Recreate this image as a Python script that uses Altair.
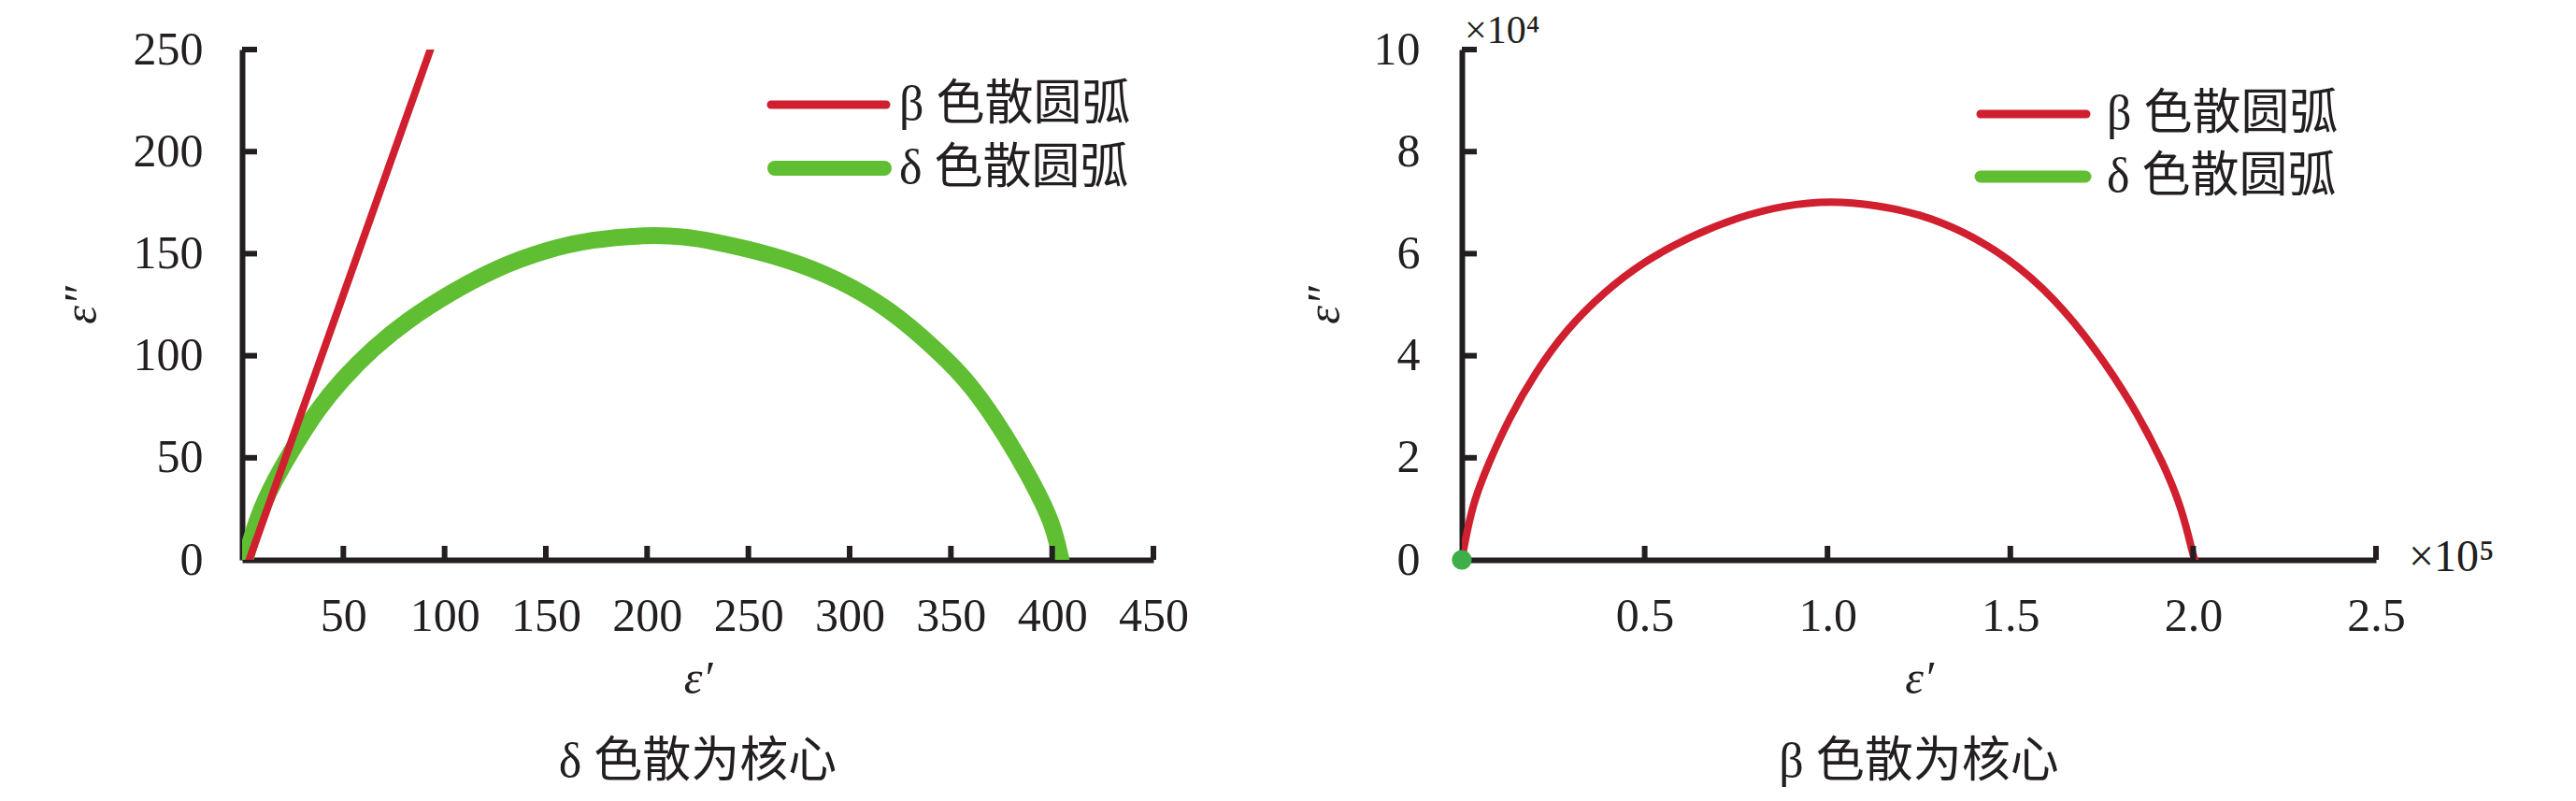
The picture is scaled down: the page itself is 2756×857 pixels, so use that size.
import altair as alt
import pandas as pd

# ---------------- data ----------------
SERIES = ["β 色散圆弧", "δ 色散圆弧"]
RED = "#d01f2e"
GREEN = "#5fbe32"
BLOB_GREEN = "#3dae49"

# Left panel (δ dispersion as core)
BETA_L_X = [3.5, 93]
BETA_L_Y = [0, 250]
DELTA_L_X = [1.5, 7.7, 15.4, 26.2, 36.9, 49.3, 64.6, 81.6, 103.1, 126.2, 149.3, 172.4, 200, 218,
             236.2, 269.4, 294.2, 319.1, 344, 360.5, 377.1, 390.3, 400.3, 404.4]
DELTA_L_Y = [0, 21.4, 38, 56.4, 73.2, 88.4, 103.7, 117.4, 131.1, 143.3, 151.7, 157, 159.3, 158.5,
             155.5, 147.5, 137.6, 123.5, 102.1, 85.4, 61, 38.1, 18.3, 0]

# Right panel (β dispersion as core), x in 1e5, y in 1e4
BETA_R_X = [0, 0.0036, 0.029, 0.072, 0.131, 0.199, 0.285, 0.387, 0.498, 0.625, 0.753, 0.881, 1.009,
            1.136, 1.25, 1.366, 1.494, 1.622, 1.733, 1.835, 1.920, 1.971, 2.001, 2.005]
BETA_R_Y = [0, 0.17, 1.09, 1.88, 2.80, 3.65, 4.51, 5.24, 5.85, 6.34, 6.71, 6.95, 7.04,
            6.95, 6.78, 6.46, 5.93, 5.12, 4.14, 3.04, 1.88, 0.97, 0.05, 0]
DELTA_R_X = [0, 0.002, 0.004]
DELTA_R_Y = [0, 0.016, 0]

LEFT_X_TICKS = [50, 100, 150, 200, 250, 300, 350, 400, 450]
LEFT_Y_TICKS = [50, 100, 150, 200, 250]
LEFT_Y_LABELS = [0, 50, 100, 150, 200, 250]
RIGHT_X_TICKS = [0.5, 1.0, 1.5, 2.0, 2.5]
RIGHT_Y_TICKS = [2, 4, 6, 8, 10]
RIGHT_Y_LABELS = [0, 2, 4, 6, 8, 10]

TITLES = ["δ 色散为核心", "β 色散为核心"]
X_TITLE = "ε′"
Y_TITLE = "ε″"
X_EXP = "×10⁵"
Y_EXP = "×10⁴"

FONT = "Liberation Serif, Noto Sans CJK SC"
INK = "#231f20"


def frame(xs, ys, name):
    return pd.DataFrame({"x": xs, "y": ys, "series": name, "i": list(range(len(xs)))})


def legend_layers(rows):
    """rows: list of (label, colour, stroke width, x0, x1, y, text x) in plot pixels."""
    out = []
    for label, col, w, x0, x1, y, tx in rows:
        df = pd.DataFrame({"t": [label]})
        out.append(alt.Chart(df).mark_rule(color=col, strokeWidth=w, strokeCap="round").encode(
            x=alt.value(x0), x2=alt.value(x1), y=alt.value(y)))
        out.append(alt.Chart(df).mark_text(align="left", baseline="middle", fontSize=52, font=FONT,
                                           color=INK).encode(
            text="t:N", x=alt.value(tx), y=alt.value(y)))
    return out


def panel(beta, delta, xdom, ydom, xticks, yticks, ylabels, xfmt, width, height,
          widths, title, ylabpad, ytitlepad, leg_rows, green_on_top, blob):
    xs = alt.Scale(domain=xdom, nice=False, zero=False)
    ys = alt.Scale(domain=ydom, nice=False, zero=False)
    xax = alt.Axis(values=xticks, format=xfmt, ticks=False, grid=False, domainWidth=6,
                   domainColor=INK, labelPadding=35, title=X_TITLE, titlePadding=17,
                   titleFontStyle="italic", labelFlush=False)
    yax = alt.Axis(values=ylabels, ticks=False, grid=False, domainWidth=6, domainColor=INK,
                   labelPadding=ylabpad, title=Y_TITLE, titlePadding=ytitlepad,
                   titleFontStyle="italic", labelFlush=False)
    color = alt.Color("series:N", scale=alt.Scale(domain=SERIES, range=[RED, GREEN]), legend=None)
    sw = alt.StrokeWidth("series:N", scale=alt.Scale(domain=SERIES, range=widths), legend=None)

    def line(df):
        return alt.Chart(df).mark_line(strokeCap="round", strokeJoin="round", clip=True,
                                       interpolate="basis").encode(
            x=alt.X("x:Q", scale=xs, axis=xax),
            y=alt.Y("y:Q", scale=ys, axis=yax),
            color=color, strokeWidth=sw, order="i:Q")

    lb, ld = line(beta), line(delta)
    layers = [lb, ld] if green_on_top else [ld, lb]
    if blob:
        layers.append(alt.Chart(delta.iloc[:1]).mark_circle(size=blob, color=BLOB_GREEN, opacity=1).encode(
            x=alt.X("x:Q", scale=xs), y=alt.Y("y:Q", scale=ys)))

    xt = alt.Chart(pd.DataFrame({"t": xticks})).mark_rule(
        strokeWidth=6, color=INK, y2Offset=-15).encode(
        x=alt.X("t:Q", scale=xs), y=alt.datum(ydom[0], scale=ys), y2=alt.datum(ydom[0]))
    yt = alt.Chart(pd.DataFrame({"t": yticks})).mark_rule(
        strokeWidth=6, color=INK, x2Offset=16).encode(
        y=alt.Y("t:Q", scale=ys), x=alt.datum(xdom[0], scale=xs), x2=alt.datum(xdom[0]))

    return alt.layer(*layers, xt, yt, *legend_layers(leg_rows)).properties(
        width=width, height=height,
        title=alt.TitleParams(title, orient="bottom", fontSize=52, font=FONT, color=INK,
                              fontWeight="normal", offset=39))


left = panel(frame(BETA_L_X, BETA_L_Y, SERIES[0]), frame(DELTA_L_X, DELTA_L_Y, SERIES[1]),
             [0, 450], [0, 250], LEFT_X_TICKS, LEFT_Y_TICKS, LEFT_Y_LABELS, "d",
             975, 546, [8, 18], TITLES[0], 42, 30,
             [(SERIES[0], RED, 9, 566, 689, 59, 703),
              (SERIES[1], GREEN, 16, 570, 687, 127, 703)],
             False, 0)

right_base = panel(frame(BETA_R_X, BETA_R_Y, SERIES[0]), frame(DELTA_R_X, DELTA_R_Y, SERIES[1]),
                   [0, 2.5], [0, 10], RIGHT_X_TICKS, RIGHT_Y_TICKS, RIGHT_Y_LABELS, ".1f",
                   978, 546, [8, 13], TITLES[1], 45, 27,
                   [(SERIES[0], RED, 9, 555, 668, 69, 690),
                    (SERIES[1], GREEN, 13, 555, 667, 136, 690)],
                   True, 450)

rxs = alt.Scale(domain=[0, 2.5], nice=False, zero=False)
rys = alt.Scale(domain=[0, 10], nice=False, zero=False)
yexp = alt.Chart(pd.DataFrame({"t": [Y_EXP]})).mark_text(
    align="left", baseline="middle", dx=3, dy=-20, fontSize=42, font=FONT, color=INK).encode(
    x=alt.datum(0, scale=rxs), y=alt.datum(10, scale=rys), text="t:N")
xexp = alt.Chart(pd.DataFrame({"t": [X_EXP]})).mark_text(
    align="left", baseline="middle", dx=35, dy=-2, fontSize=48, font=FONT, color=INK).encode(
    x=alt.datum(2.5, scale=rxs), y=alt.datum(0, scale=rys), text="t:N")

right = alt.layer(right_base, yexp, xexp)

chart = alt.hconcat(left, right, spacing=330, bounds="flush").resolve_scale(
    color="independent", strokeWidth="independent"
).properties(
    padding={"left": 54, "top": 4, "right": 5, "bottom": 5}
).configure_view(stroke=None).configure_axis(
    labelFont=FONT, labelFontSize=50, labelColor=INK, titleFont=FONT, titleFontSize=50,
    titleColor=INK, titleFontWeight="normal")

chart.save("out.html", embed_options={"renderer": "svg", "actions": False})
